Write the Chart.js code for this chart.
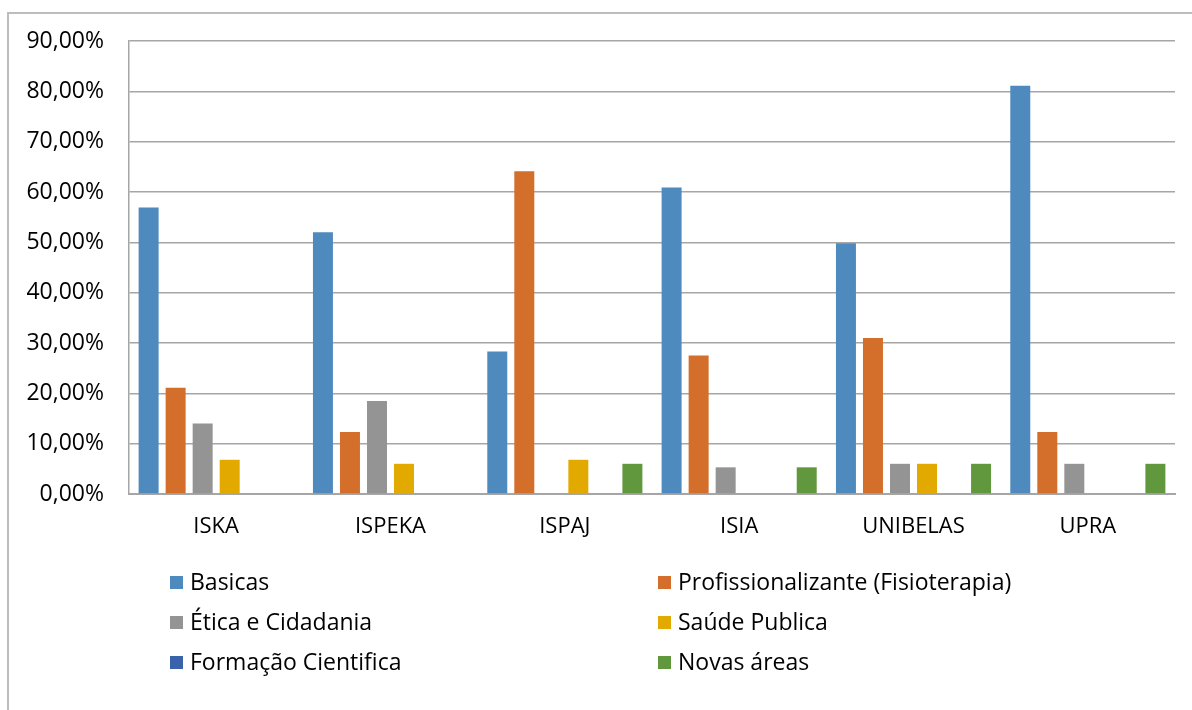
<!DOCTYPE html>
<html>
<head>
<meta charset="utf-8">
<script src="https://cdn.jsdelivr.net/npm/chart.js@4"></script>
<style>
    html, body { margin: 0; padding: 0; background: #fff; overflow: hidden; }
    #wrap { position: relative; width: 1192px; height: 710px; }
    #frame { position: absolute; left: 7px; top: 12px; width: 1200px; height: 720px; border: 2px solid #bdbdbd; box-sizing: border-box; }
    #chart { position: absolute; left: 0; top: 0; }
    .leg { position: absolute; font: 23px "Open Sans", sans-serif; color: #000; line-height: 26px; white-space: nowrap; }
    .leg span.box { display: inline-block; width: 13px; height: 13px; margin-right: 7px; vertical-align: 1px; }
</style>
</head>
<body>
<div id="wrap">
    <div id="frame"></div>
    <canvas id="chart" width="1192" height="710"></canvas>
    <div id="legend"></div>
</div>
<script>
// categories and series (values in %)
var categories = ['ISKA', 'ISPEKA', 'ISPAJ', 'ISIA', 'UNIBELAS', 'UPRA'];
var basicas = [56.9, 52.0, 28.3, 60.9, 49.8, 81.1];
var profissionalizante = [21.1, 12.3, 64.1, 27.5, 31.0, 12.3];
var etica = [14.0, 18.5, 0, 5.3, 6.0, 6.0];
var saude = [6.8, 6.0, 6.8, 0, 6.0, 0];
var formacao = [0, 0, 0, 0, 0, 0];
var novas = [0, 0, 6.0, 5.3, 6.0, 6.0];
var seriesNames = ['Basicas', 'Profissionalizante (Fisioterapia)', 'Ética e Cidadania', 'Saúde Publica', 'Formação Cientifica', 'Novas áreas'];
var seriesColors = ['#4F8ABE', '#D46E2B', '#949494', '#E2AA00', '#3A63AB', '#62983D'];
var yTicks = [0, 10, 20, 30, 40, 50, 60, 70, 80, 90];

var FONT = '"Open Sans", sans-serif';
var seriesData = [basicas, profissionalizante, etica, saude, formacao, novas];

var ctx = document.getElementById('chart').getContext('2d');
var chart = new Chart(ctx, {
    type: 'bar',
    data: {
        labels: categories,
        datasets: seriesData.map(function (d, i) {
            return {
                label: seriesNames[i],
                data: d,
                backgroundColor: seriesColors[i],
                borderWidth: 0,
                categoryPercentage: 0.93,
                barPercentage: 0.74
            };
        })
    },
    options: {
        responsive: false,
        animation: false,
        layout: { padding: { left: 0, top: 41, right: 17, bottom: 156 } },
        plugins: { legend: { display: false }, tooltip: { enabled: false } },
        scales: {
            x: {
                grid: { display: false, drawTicks: false },
                border: { display: true, color: '#a6a6a6', width: 2 },
                ticks: { color: '#000', font: { family: FONT, size: 22 }, padding: 20, maxRotation: 0 },
                afterFit: function (s) { s.height = 60; }
            },
            y: {
                min: 0,
                max: 90,
                afterBuildTicks: function (s) { s.ticks = yTicks.map(function (v) { return { value: v }; }); },
                grid: { color: '#a6a6a6', lineWidth: 1.5, drawTicks: false },
                border: { display: true, color: '#a6a6a6', width: 1.5 },
                ticks: {
                    color: '#000',
                    font: { family: FONT, size: 23 },
                    padding: 25,
                    callback: function (v) { return v.toFixed(2).replace('.', ',') + '%'; }
                },
                afterFit: function (s) { s.width = 129; }
            }
        }
    }
});

// legend in two columns, built from the chart datasets
var legend = document.getElementById('legend');
var colX = [170, 658];
var rowY = [568, 608, 648];
chart.data.datasets.forEach(function (ds, i) {
    var el = document.createElement('div');
    el.className = 'leg';
    el.style.left = colX[i % 2] + 'px';
    el.style.top = rowY[Math.floor(i / 2)] + 'px';
    el.innerHTML = '<span class="box" style="background:' + ds.backgroundColor + '"></span>' + ds.label;
    legend.appendChild(el);
});
</script>
</body>
</html>
